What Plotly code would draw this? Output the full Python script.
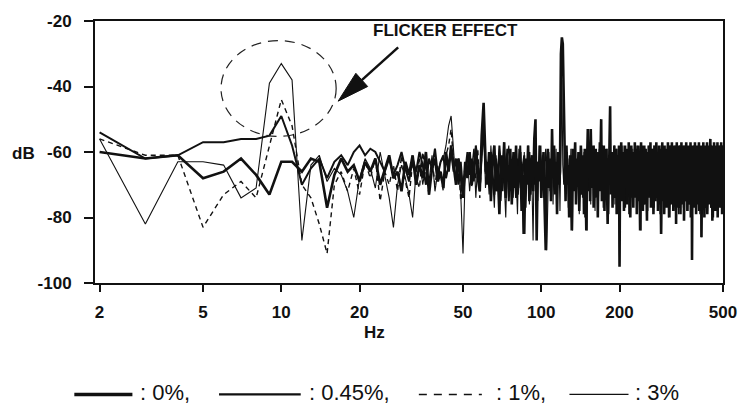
import plotly.graph_objects as go
import math

# ---------------- data (dB values at 1 Hz bins, starting at 2 Hz) ----------------
start_hz = 2

level_0pct = [
    -60, -62, -61, -68, -66, -62, -67, -73, -63, -63,
    -66, -62, -63, -77, -67, -62, -66, -64, -69, -63,
    -66, -62, -70, -65, -61, -68, -66, -72, -63, -67,
    -61, -70, -64, -68, -60, -73, -65, -62, -69, -66,
    -71, -60, -66, -58, -64, -70, -62, -67, -74, -63,
    -68, -60, -70, -64, -59, -68, -72, -55, -45, -62,
    -70, -60, -75, -63, -58, -72, -66, -79, -61, -68,
    -57, -74, -64, -69, -59, -76, -62, -71, -58, -73,
    -65, -60, -78, -67, -85, -62, -70, -58, -75, -64,
    -61, -72, -56, -50, -87, -63, -69, -58, -74, -66,
    -60, -77, -90, -64, -59, -71, -62, -75, -53, -68,
    -58, -73, -63, -79, -60, -70, -66, -30, -25, -27,
    -48, -62, -75, -58, -70, -64, -80, -61, -67, -84,
    -59, -72, -65, -57, -76, -62, -69, -60, -78, -64,
    -58, -73, -66, -61, -79, -59, -70, -84, -63, -53,
    -68, -60, -75, -53, -65, -71, -58, -77, -62, -69,
    -59, -74, -64, -80, -60, -72, -57, -66, -50, -75,
    -61, -69, -58, -78, -63, -71, -59, -67, -82, -62,
    -70, -57, -46, -73, -65, -60, -77, -62, -68, -58,
    -74, -64, -59, -79, -66, -61, -72, -58, -95, -63,
    -69, -57, -75, -62, -67, -60, -78, -64, -58, -71,
    -66, -59, -76, -63, -70, -57, -73, -61, -80, -65,
    -58, -72, -64, -60, -77, -62, -69, -57, -74, -66,
    -59, -79, -63, -70, -58, -75, -61, -68, -84, -64,
    -57, -73, -66, -60, -78, -62, -71, -58, -76, -64,
    -59, -70, -63, -81, -60, -74, -65, -58, -72, -62,
    -69, -57, -77, -64, -60, -73, -66, -59, -79, -62,
    -70, -58, -75, -63, -68, -57, -74, -65, -60, -78,
    -62, -71, -58, -76, -64, -59, -72, -85, -61, -69,
    -57, -75, -63, -70, -58, -79, -62, -67, -59, -74,
    -65, -60, -77, -62, -71, -57, -73, -64, -59, -80,
    -63, -69, -58, -76, -62, -70, -57, -74, -66, -60,
    -78, -63, -68, -58, -75, -61, -71, -59, -82, -64,
    -57, -72, -65, -60, -77, -62, -69, -58, -74, -63,
    -59, -79, -64, -70, -57, -76, -62, -68, -60, -73,
    -65, -58, -81, -63, -71, -59, -75, -62, -67, -57,
    -74, -64, -60, -78, -62, -70, -58, -76, -63, -69,
    -59, -73, -65, -57, -80, -62, -71, -60, -93, -64,
    -58, -75, -63, -68, -59, -77, -62, -70, -57, -74,
    -65, -60, -79, -63, -69, -58, -76, -62, -71, -59,
    -73, -64, -57, -78, -62, -70, -60, -75, -63, -68,
    -58, -86, -64, -71, -59, -76, -62, -69, -57, -74,
    -65, -60, -80, -63, -70, -58, -77, -62, -68, -59,
    -73, -64, -57, -79, -62, -71, -60, -75, -63, -69,
    -58, -76, -64, -70, -59, -56, -62, -72, -60, -77,
    -63, -68, -58, -81, -64, -71, -59, -75, -62, -69,
    -57, -74, -65, -60, -78, -63, -70, -58, -76, -62,
    -69, -59, -73, -64, -57, -80, -62, -71, -60, -75,
    -63, -68, -58, -77, -64, -70, -59, -74, -62, -69,
    -57, -76, -65, -60, -79, -63, -71, -58, -73,
]

level_3pct = [
    -56, -82, -63, -63, -64, -74, -71, -39, -33, -38,
    -87, -64, -61, -69, -65, -67, -72, -80, -68, -62,
    -65, -71, -60, -67, -74, -83, -70, -64, -68, -73,
    -80, -66, -62, -70, -64, -69, -61, -72, -66, -63,
    -62, -58, -52, -49, -60, -70, -64, -73, -91, -66,
    -61, -72, -65, -59, -74, -63, -68, -60, -50, -71,
    -64, -73, -58, -68, -77, -61, -70, -59, -75, -63,
    -69, -80, -62, -58, -72, -66, -74, -60, -67, -79,
    -59, -71, -63, -85, -60, -73, -65, -58, -76, -62,
    -68, -87, -59, -70, -64, -75, -58, -66, -72, -61,
    -74, -63, -59, -90, -67, -60, -72, -64, -58, -76,
    -62, -69, -59, -74, -65, -61, -78, -60, -38, -64,
    -70, -58, -73, -65, -60, -77, -62, -69, -59, -75,
    -84, -61, -70, -58, -73, -64, -68, -60, -79, -62,
    -70, -59, -74, -65, -60, -80, -63, -68, -84, -58,
    -72, -64, -61, -76, -59, -69, -63, -73, -58, -78,
    -62, -70, -60, -66, -75, -59, -71, -50, -64, -72,
    -58, -77, -63, -68, -60, -74, -65, -59, -71, -62,
    -79, -58, -47, -64, -69, -60, -73, -62, -67, -58,
    -76, -63, -70, -59, -74, -65, -61, -78, -94, -66,
    -60, -72, -63, -69, -58, -75, -62, -70, -59, -77,
    -64, -68, -60, -73, -62, -79, -58, -70, -65, -61,
    -74, -63, -69, -59, -76, -62, -71, -60, -68, -64,
    -72, -58, -77, -65, -61, -70, -63, -74, -59, -67,
    -84, -62, -70, -58, -73, -64, -60, -76, -62, -69,
    -59, -75, -63, -68, -60, -78, -62, -71, -58, -74,
    -65, -61, -70, -63, -76, -59, -69, -62, -73, -58,
    -77, -64, -60, -71, -63, -69, -58, -75, -62, -68,
    -59, -74, -65, -61, -79, -62, -70, -58, -85, -64,
    -69, -60, -73, -62, -77, -59, -68, -64, -71, -58,
    -75, -63, -69, -60, -74, -62, -80, -59, -67, -64,
    -72, -58, -76, -63, -69, -61, -73, -59, -78, -64,
    -68, -60, -74, -62, -70, -58, -77, -63, -69, -61,
    -75, -59, -71, -64, -60, -79, -62, -68, -58, -73,
    -65, -61, -76, -63, -70, -59, -74, -62, -69, -60,
    -77, -64, -58, -72, -63, -68, -60, -75, -62, -71,
    -58, -78, -64, -69, -60, -74, -62, -70, -59, -76,
    -63, -68, -60, -73, -62, -77, -59, -70, -65, -93,
    -61, -74, -63, -69, -58, -76, -62, -71, -60, -73,
    -64, -68, -59, -77, -62, -70, -60, -74, -63, -69,
    -58, -76, -64, -71, -60, -79, -62, -68, -59, -73,
    -63, -70, -86, -61, -75, -62, -69, -58, -77, -64,
    -70, -60, -73, -63, -68, -59, -76, -62, -71, -60,
    -74, -63, -69, -58, -78, -64, -70, -60, -75, -62,
    -68, -59, -73, -64, -70, -60, -77, -62, -69, -58,
    -74, -63, -71, -60, -76, -62, -68, -59, -80, -64,
    -70, -58, -73, -63, -69, -60, -77, -62, -71, -59,
    -75, -64, -68, -60, -74, -62, -79, -59, -70, -63,
    -72, -58, -76, -64, -69, -60, -74, -62, -71, -59,
    -77, -63, -68, -60, -75, -62, -70, -58, -73,
]

level_045pct = [
    -54, -62, -61, -57, -57, -56, -56, -55, -49, -58,
    -70, -65, -62, -68, -63, -61, -64, -60, -58, -61,
    -59, -60, -63, -66, -62, -67, -64, -60, -65, -69,
    -62, -66, -60, -64, -70, -62, -65, -59, -67, -63,
    -61, -68, -64, -60, -66, -62, -70, -63, -72, -65,
    -60, -67, -62, -69, -58, -64, -71, -61, -52, -66,
    -63, -70, -60, -67, -73, -62, -69, -58, -66, -72,
    -61, -68, -59, -75, -63, -70, -60, -66, -74, -62,
    -69, -58, -72, -64, -61, -77, -63, -68, -60, -73,
    -65, -62, -70, -59, -76, -63, -67, -60, -71, -64,
]

level_1pct = [
    -56, -61, -61, -83, -73, -69, -74, -58, -44, -52,
    -70, -74, -82, -91, -70, -66, -72, -65, -73, -63,
    -68, -62, -75, -66, -70, -64, -72, -61, -69, -74,
    -63, -68, -71, -60, -66, -73, -62, -70, -64, -67,
    -72, -61, -58, -53, -63, -69, -62, -75, -70, -64,
    -66, -60, -71, -63, -68, -59, -74, -62, -48, -67,
]

y_tick_vals = [-100, -80, -60, -40, -20]
y_tick_text = ["-100", "-80", "-60", "-40", "-20"]
x_tick_vals = [2, 5, 10, 20, 50, 100, 200, 500]
x_tick_text = ["2", "5", "10", "20", "50", "100", "200", "500"]

legend_labels = [": 0%,", ": 0.45%,", ": 1%,", ": 3%"]

def hz(values):
    return list(range(start_hz, start_hz + len(values)))

INK = "#111111"

fig = go.Figure()
fig.add_trace(go.Scatter(x=hz(level_3pct), y=level_3pct, mode="lines",
                         line=dict(color=INK, width=1.1), name="3%"))
fig.add_trace(go.Scatter(x=hz(level_1pct), y=level_1pct, mode="lines",
                         line=dict(color=INK, width=1.4, dash="5px,4px"), name="1%"))
fig.add_trace(go.Scatter(x=hz(level_045pct), y=level_045pct, mode="lines",
                         line=dict(color=INK, width=2.0), name="0.45%"))
fig.add_trace(go.Scatter(x=hz(level_0pct), y=level_0pct, mode="lines",
                         line=dict(color=INK, width=2.6), name="0%"))

# ---------------- layout ----------------
W, H = 749, 411
L, R, T, B = 95, 16, 15, 128
PW, PH = W - L - R, H - T - B

def px(X):
    return (X - L) / PW

def py(Y):
    return (H - B - Y) / PH

x_lo = 0.2834
x_hi = math.log10(500)

FONT = "Liberation Sans, Arial, sans-serif"

fig.update_layout(
    width=W, height=H,
    margin=dict(l=L, r=R, t=T, b=B, pad=0),
    paper_bgcolor="white", plot_bgcolor="white",
    showlegend=False,
    hovermode=False,
    xaxis=dict(
        type="log", range=[x_lo, x_hi],
        tickvals=x_tick_vals, ticktext=x_tick_text,
        ticks="outside", ticklen=7, tickwidth=2, tickcolor=INK,
        showline=True, linewidth=2, linecolor=INK, mirror=True,
        showgrid=False, zeroline=False,
        tickfont=dict(family=FONT, size=17, color=INK, weight="bold"),
        ticklabelstandoff=6,
    ),
    yaxis=dict(
        range=[-100, -20],
        tickvals=y_tick_vals, ticktext=y_tick_text,
        ticks="outside", ticklen=9, tickwidth=2, tickcolor=INK,
        showline=True, linewidth=2, linecolor=INK, mirror=True,
        showgrid=False, zeroline=False,
        tickfont=dict(family=FONT, size=17, color=INK, weight="bold"),
        ticklabelstandoff=9,
    ),
)

shapes = []
annotations = []

# dashed circle around the flicker peak
shapes.append(dict(type="circle", xref="paper", yref="paper",
                   x0=px(223), x1=px(340), y0=py(133), y1=py(35),
                   line=dict(color="#222", width=1.2, dash="10px,7px")))

# arrow
shapes.append(dict(type="line", xref="paper", yref="paper",
                   x0=px(403), y0=py(42), x1=px(366), y1=py(75.5),
                   line=dict(color=INK, width=2.5)))
shapes.append(dict(type="path", xref="paper", yref="paper",
                   path=f"M {px(342)},{py(97)} L {px(372)},{py(82)} L {px(360)},{py(68.5)} Z",
                   fillcolor=INK, line=dict(color=INK, width=1)))

annotations.append(dict(text="<b>FLICKER EFFECT</b>", xref="paper", yref="paper",
                        x=px(451), y=py(25), xanchor="center", yanchor="middle",
                        showarrow=False, font=dict(family=FONT, size=17, color=INK)))
annotations.append(dict(text="<b>dB</b>", xref="paper", yref="paper",
                        x=px(22), y=py(151), xanchor="center", yanchor="middle",
                        showarrow=False, font=dict(family=FONT, size=17, color=INK)))
annotations.append(dict(text="<b>Hz</b>", xref="paper", yref="paper",
                        x=px(379), y=py(334), xanchor="center", yanchor="middle",
                        showarrow=False, font=dict(family=FONT, size=17, color=INK)))

# legend row (drawn by hand like the original caption)
leg_y = 395
leg_lines = [
    (74, 133, dict(color=INK, width=3.5)),
    (221, 304, dict(color=INK, width=2.2)),
    (424, 488, dict(color=INK, width=1.6, dash="8px,7px")),
    (577, 637, dict(color=INK, width=1.2)),
]
leg_text_x = [139, 310, 500, 642]
for (x0, x1, ln) in leg_lines:
    shapes.append(dict(type="line", xref="paper", yref="paper",
                       x0=px(x0), x1=px(x1), y0=py(leg_y + 2), y1=py(leg_y + 2), line=ln))
for tx, lab in zip(leg_text_x, legend_labels):
    annotations.append(dict(text=lab, xref="paper", yref="paper",
                            x=px(tx), y=py(leg_y), xanchor="left", yanchor="middle",
                            showarrow=False, font=dict(family=FONT, size=22, color=INK)))

fig.update_layout(shapes=shapes, annotations=annotations)

fig.write_html("out.html", config={"displayModeBar": False})
